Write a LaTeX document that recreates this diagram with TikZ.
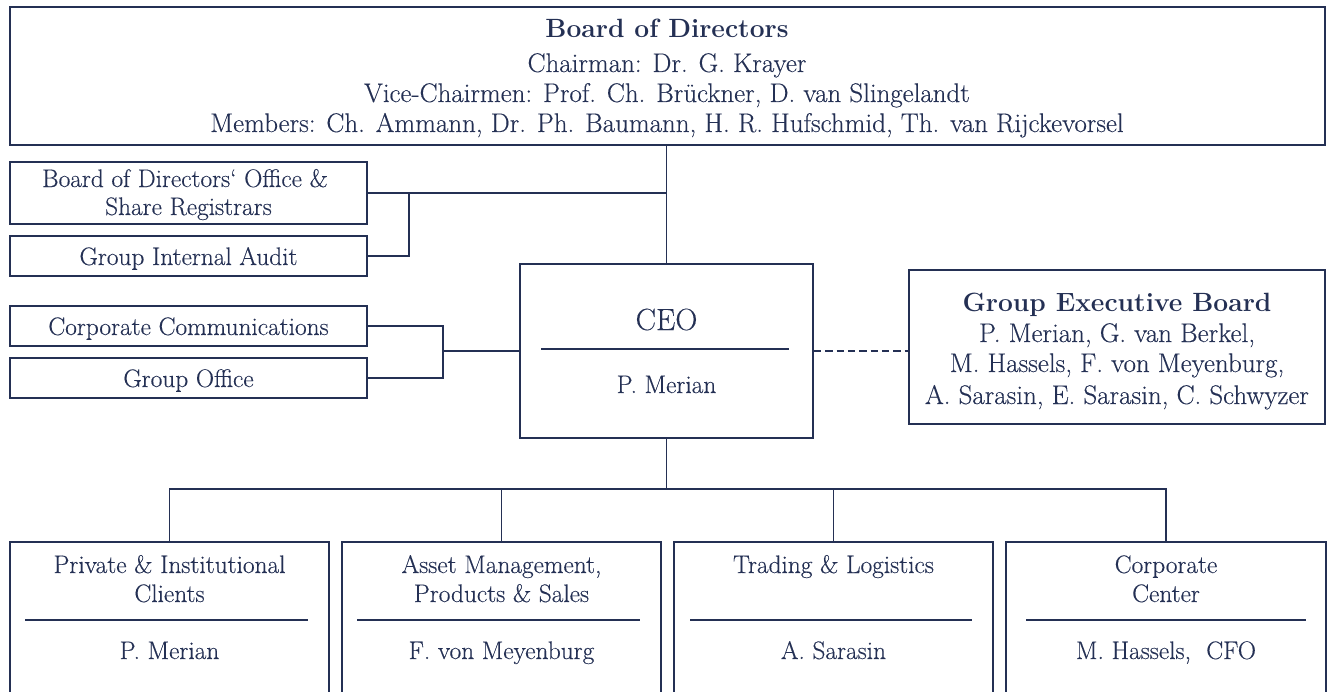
\documentclass[tikz,border=0pt]{standalone}
\usepackage{fontspec}
\setmainfont[FakeBold=0.3, BoldFont={Latin Modern Roman/B}, BoldFeatures={FakeBold=0}]{Latin Modern Roman}
\usetikzlibrary{fit}
\definecolor{navy}{RGB}{36,48,84}
\begin{document}
\begin{tikzpicture}[x=0.75pt,y=-0.75pt,
  box/.style={draw=navy, inner sep=0pt, line width=1.3pt},
  txt/.style={text=navy, inner sep=0pt, anchor=base, font=\fontsize{19}{23}\selectfont},
  bigtxt/.style={text=navy, inner sep=0pt, anchor=base, font=\fontsize{20.2}{24}\selectfont},
  ttl/.style={text=navy, inner sep=0pt, anchor=base, font=\fontsize{19.8}{24}\selectfont\bfseries},
  ceotxt/.style={text=navy, inner sep=0pt, anchor=base, font=\fontsize{23}{26}\selectfont},
  link/.style={draw=navy, line width=1.3pt},
  dashlink/.style={link, dash pattern=on 5.5pt off 3pt},
  rule/.style={draw=navy, line width=1.3pt}]
\useasboundingbox (0,0) rectangle (1332,692);
\clip (0,0) rectangle (1332,692);

% Board of Directors
\node[box, fit={(10,7) (1325,145)}] (board) {};
\node[ttl] (boardT) at (667,38) {Board of Directors};
\node[bigtxt] (boardL1) at (667,72) {Chairman: Dr. G. Krayer};
\node[bigtxt] (boardL2) at (667,102) {Vice-Chairmen: Prof. Ch. Brückner, D. van Slingelandt};
\node[bigtxt] (boardL3) at (667,132) {Members: Ch. Ammann, Dr. Ph. Baumann, H. R. Hufschmid, Th. van Rijckevorsel};

% Staff boxes
\node[box, fit={(10,162) (367,224)}] (bdo) {};
\node[txt] (bdoL1) at (185,187) {Board of Directors‘ Office \&};
\node[txt] (bdoL2) at (188.5,215) {Share Registrars};
\node[box, fit={(10,236) (367,276)}] (gia) {};
\node[txt] (giaT) at (188.5,265) {Group Internal Audit};
\node[box, fit={(10,306) (367,346)}] (cc) {};
\node[txt] (ccT) at (188.5,335) {Corporate Communications};
\node[box, fit={(10,358) (367,398)}] (go) {};
\node[txt] (goT) at (188.5,387) {Group Office};

% CEO
\node[box, fit={(520,264) (813,438)}] (ceo) {};
\node[ceotxt] (ceoT) at (666.5,330) {CEO};
\draw[rule] (541,349) -- (789,349);
\node[txt] (ceoN) at (666.5,393) {P. Merian};

% Group Executive Board
\node[box, fit={(909,270) (1325,424)}] (geb) {};
\node[ttl] (gebT) at (1117,311) {Group Executive Board};
\node[bigtxt] (gebL1) at (1117,342) {P. Merian, G. van Berkel,};
\node[bigtxt] (gebL2) at (1117,372) {M. Hassels, F. von Meyenburg,};
\node[bigtxt] (gebL3) at (1117,404) {A. Sarasin, E. Sarasin, C. Schwyzer};

% Divisions
\node[box, fit={(10,542) (329,720)}] (d1) {};
\node[txt] (d1L1) at (169.5,573) {Private \& Institutional};
\node[txt] (d1L2) at (169.5,602) {Clients};
\draw[rule] (25,620) -- (308,620);
\node[txt] (d1N) at (169.5,659) {P. Merian};

\node[box, fit={(342,542) (661,720)}] (d2) {};
\node[txt] (d2L1) at (501.5,573) {Asset Management,};
\node[txt] (d2L2) at (501.5,602) {Products \& Sales};
\draw[rule] (357,620) -- (640,620);
\node[txt] (d2N) at (501.5,659) {F. von Meyenburg};

\node[box, fit={(674,542) (993,720)}] (d3) {};
\node[txt] (d3L1) at (833.5,573) {Trading \& Logistics};
\draw[rule] (690,620) -- (972,620);
\node[txt] (d3N) at (833.5,659) {A. Sarasin};

\node[box, fit={(1006,542) (1326,720)}] (d4) {};
\node[txt] (d4L1) at (1166,573) {Corporate};
\node[txt] (d4L2) at (1166,602) {Center};
\draw[rule] (1026,620) -- (1306,620);
\node[txt] (d4N) at (1166,659) {M. Hassels,\ \ CFO};

% Connectors
\coordinate (j1) at (409,193);
\coordinate (j2) at (443,351);
\coordinate (bus) at (666.5,489);
\draw[link] (ceo.north) -- (ceo.north |- board.south);
\draw[link] (bdo.east) -- (bdo.east -| ceo.north);
\draw[link] (gia.east) -| (j1);
\draw[link] (cc.east) -| (j2);
\draw[link] (go.east) -| (j2);
\draw[link] (j2) -- (ceo.west |- j2);
\draw[dashlink] (ceo.east) -- (ceo.east -| geb.west);
\draw[link] (ceo.south) -- (bus);
\draw[link] (d1.north) |- (bus);
\draw[link] (d2.north) |- (bus);
\draw[link] (d3.north) |- (bus);
\draw[link] (d4.north) |- (bus);
\end{tikzpicture}
\end{document}
